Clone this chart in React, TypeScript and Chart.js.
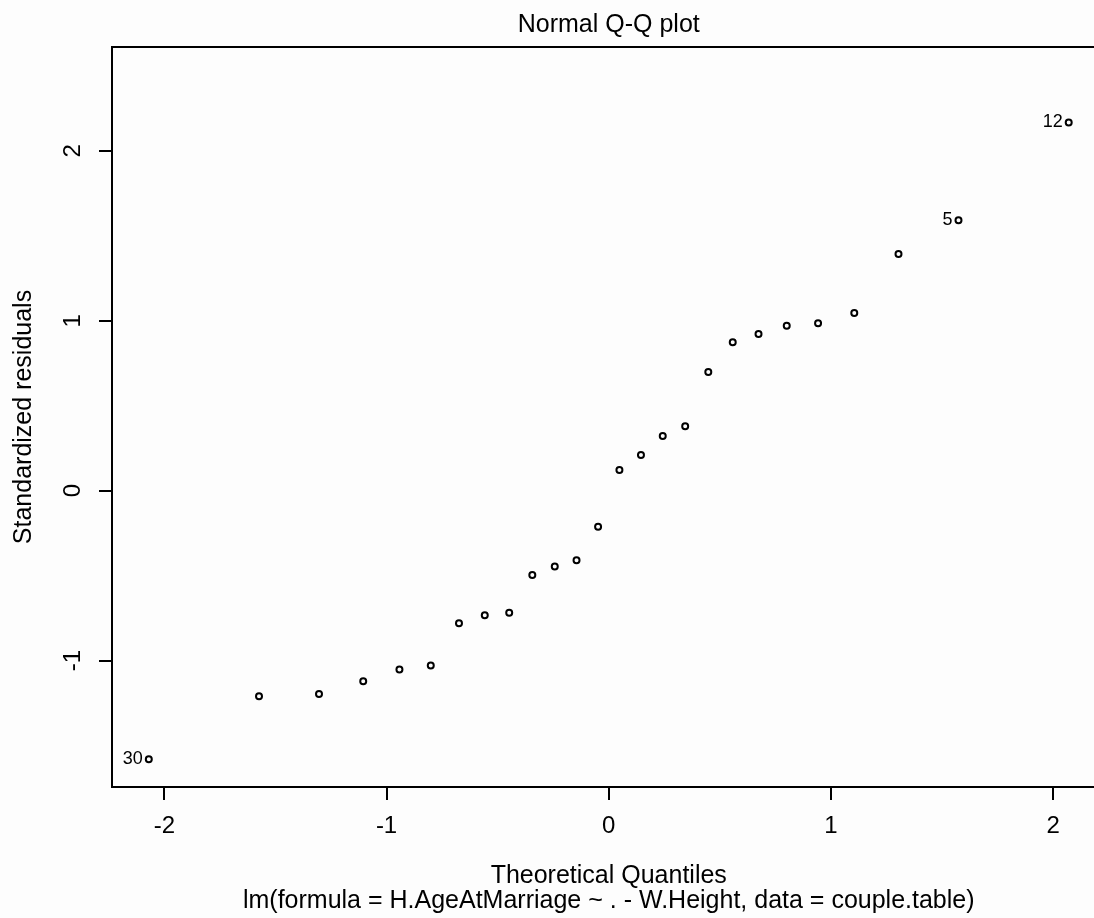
import React, { useEffect, useRef } from "react";
import { Chart, registerables } from "chart.js";

Chart.register(...registerables);

// ---- data ----
const theoreticalQuantiles = [
  -2.07, -1.574, -1.304, -1.105, -0.942, -0.801, -0.674, -0.558, -0.448, -0.344,
  -0.243, -0.145, -0.048, 0.048, 0.145, 0.243, 0.344, 0.448, 0.558, 0.674,
  0.801, 0.942, 1.105, 1.304, 1.574, 2.07,
];
const standardizedResiduals = [
  -1.581, -1.21, -1.197, -1.121, -1.052, -1.029, -0.781, -0.733, -0.719, -0.497,
  -0.446, -0.409, -0.213, 0.121, 0.21, 0.321, 0.379, 0.698, 0.873, 0.922,
  0.971, 0.985, 1.046, 1.393, 1.592, 2.167,
];
const labeledPointIndex = [0, 24, 25];
const labeledPointText = ["30", "5", "12"];
const xTickValues = [-2, -1, 0, 1, 2];
const yTickValues = [-1, 0, 1, 2];
const xRange = [-2.2356, 2.2356];
const yRange = [-1.744, 2.611];
const titleText = "Normal Q-Q plot";
const xTitleText = "Theoretical Quantiles";
const yTitleText = "Standardized residuals";
const subtitleText = "lm(formula = H.AgeAtMarriage ~ . - W.Height, data = couple.table)";

const FONT = "'Liberation Sans', Arial, Helvetica, sans-serif";

const boxPlugin = {
  id: "rBox",
  beforeDatasetsDraw(chart: any) {
    const { ctx, chartArea } = chart;
    ctx.save();
    ctx.strokeStyle = "#000";
    ctx.lineWidth = 2;
    ctx.strokeRect(chartArea.left, chartArea.top, chartArea.right - chartArea.left, chartArea.bottom - chartArea.top);
    ctx.restore();
  },
};

const pointLabelPlugin = {
  id: "pointLabels",
  afterDatasetsDraw(chart: any) {
    const { ctx } = chart;
    const meta = chart.getDatasetMeta(0);
    ctx.save();
    ctx.fillStyle = "#000";
    ctx.font = `18px ${FONT}`;
    ctx.textAlign = "right";
    ctx.textBaseline = "middle";
    labeledPointIndex.forEach((idx, k) => {
      const el = meta.data[idx];
      if (el) ctx.fillText(labeledPointText[k], el.x - 6, el.y);
    });
    ctx.restore();
  },
};

export default function App() {
  const canvasRef = useRef<HTMLCanvasElement | null>(null);

  useEffect(() => {
    if (!canvasRef.current) return;
    Chart.defaults.font.family = FONT;
    Chart.defaults.color = "#000";
    const chart = new Chart(canvasRef.current, {
      type: "scatter",
      data: {
        datasets: [
          {
            data: theoreticalQuantiles.map((x, i) => ({ x, y: standardizedResiduals[i] })),
            pointStyle: "circle",
            pointRadius: 3,
            pointBorderWidth: 2,
            borderColor: "#000",
            backgroundColor: "rgba(0,0,0,0)",
            pointBackgroundColor: "rgba(0,0,0,0)",
            pointBorderColor: "#000",
          },
        ],
      },
      options: {
        responsive: false,
        animation: false,
        events: [],
        layout: { padding: { left: 0, right: 14.5, top: 0, bottom: 4.5 } },
        plugins: {
          legend: { display: false },
          tooltip: { enabled: false },
          title: {
            display: true,
            text: titleText,
            fullSize: false,
            font: { size: 25, weight: "normal", lineHeight: 1 },
            padding: { top: 12.5, bottom: 9.5 },
            color: "#000",
          },
          subtitle: {
            display: true,
            text: subtitleText,
            position: "bottom",
            fullSize: false,
            font: { size: 25, weight: "normal", lineHeight: 1 },
            padding: { top: 0, bottom: 0 },
            color: "#000",
          },
        },
        scales: {
          x: {
            type: "linear",
            min: xRange[0],
            max: xRange[1],
            afterBuildTicks: (scale: any) => {
              scale.ticks = xTickValues.map((v) => ({ value: v }));
            },
            afterFit: (scale: any) => {
              scale.height = 101.5;
            },
            ticks: {
              callback: (v: any) => String(v),
              font: { size: 24, lineHeight: 1 },
              padding: 14.5,
              color: "#000",
              maxRotation: 0,
              minRotation: 0,
            },
            grid: {
              drawOnChartArea: false,
              drawTicks: true,
              tickLength: 13,
              lineWidth: 2,
              color: "#000",
            },
            border: { display: false },
            title: {
              display: true,
              text: xTitleText,
              font: { size: 25, lineHeight: 1 },
              padding: { top: 0, bottom: 0 },
              color: "#000",
            },
          },
          y: {
            type: "linear",
            min: yRange[0],
            max: yRange[1],
            afterBuildTicks: (scale: any) => {
              scale.ticks = yTickValues.map((v) => ({ value: v }));
            },
            afterFit: (scale: any) => {
              scale.width = 112;
            },
            ticks: {
              callback: (v: any) => String(v),
              font: { size: 24, lineHeight: 1 },
              padding: 15,
              color: "#000",
              minRotation: 90,
              maxRotation: 90,
              crossAlign: "center",
            },
            grid: {
              drawOnChartArea: false,
              drawTicks: true,
              tickLength: 13,
              lineWidth: 2,
              color: "#000",
            },
            border: { display: false },
            title: {
              display: true,
              text: yTitleText,
              font: { size: 25, lineHeight: 1 },
              padding: { top: 11.5, bottom: 0 },
              color: "#000",
            },
          },
        },
      },
      plugins: [boxPlugin, pointLabelPlugin],
    } as any);
    return () => chart.destroy();
  }, []);

  return (
    <div
      style={{
        position: "fixed",
        left: 0,
        top: 0,
        width: 1094,
        height: 918,
        overflow: "hidden",
        background: "#fdfdfd",
      }}
    >
      <canvas ref={canvasRef} width={1120} height={918} style={{ display: "block", width: 1120, height: 918 }} />
    </div>
  );
}
